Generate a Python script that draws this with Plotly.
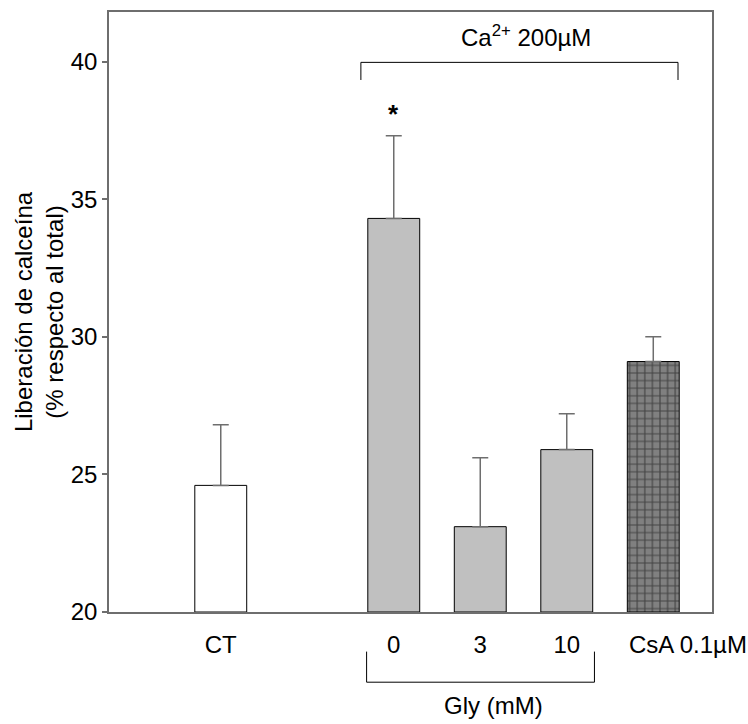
import plotly.graph_objects as go

# Calcein release per condition (% of total)
labels = ["CT", "0", "3", "10", "CsA 0.1µM"]
positions = [0, 2, 3, 4, 5]
means = [24.6, 34.3, 23.1, 25.9, 29.1]
sems = [2.2, 3.0, 2.5, 1.3, 0.9]
fills = ["#ffffff", "#c0c0c0", "#c0c0c0", "#c0c0c0", "#808080"]
patterns = ["", "", "", "", "+"]

y_ticks = [20, 25, 30, 35, 40]

FONT = "Liberation Sans, Arial, sans-serif"
AXIS_COL = "#6e6e6e"
FS = 24
BAR_W = 0.6

fig = go.Figure()
fig.add_trace(go.Bar(
    x=positions,
    y=[m - 20 for m in means],
    base=20,
    width=BAR_W,
    marker=dict(
        color=fills,
        line=dict(color="#000000", width=1),
        pattern=dict(shape=patterns, fgcolor="#000000", fgopacity=1, size=7.6,
                     solidity=0.28, fillmode="overlay"),
    ),
    error_y=dict(type="data", array=sems, arrayminus=[0] * len(sems), symmetric=False,
                 color=AXIS_COL, thickness=1.5, width=8),
    hoverinfo="skip",
))

# Brackets grouping the calcium-treated and glycine conditions
ca_left, ca_right = 1.62, 5.286
fig.add_shape(type="path", xref="x", yref="y",
              path=f"M {ca_left},39.33 L {ca_left},39.97 L {ca_right},39.97 L {ca_right},39.33",
              line=dict(color="#000000", width=1))
fig.add_annotation(x=(ca_left + ca_right) / 2 + 0.08, y=40.92, xref="x", yref="y",
                   text="Ca<sup>2+</sup> 200µM", showarrow=False,
                   font=dict(family=FONT, size=FS, color="#000000"))

gly_left, gly_right = 1.686, 4.32
fig.add_shape(type="path", xref="x", yref="paper",
              path=f"M {gly_left},-0.066 L {gly_left},-0.117 L {gly_right},-0.117 L {gly_right},-0.066",
              line=dict(color="#000000", width=1))
fig.add_annotation(x=3.15, y=-0.155, xref="x", yref="paper", yanchor="middle",
                   text="Gly (mM)", showarrow=False,
                   font=dict(family=FONT, size=FS, color="#000000"))

# Significance marker
fig.add_annotation(x=positions[1], y=38.1, xref="x", yref="y", text="<b>*</b>",
                   showarrow=False, font=dict(family=FONT, size=26, color="#000000"))

# The CsA label starts at its bar's left edge rather than centred under it
tick_text = labels[:4] + [""]
fig.add_annotation(x=positions[4] - BAR_W / 2, y=0, xref="x", yref="paper",
                   xanchor="left", yanchor="top", yshift=-17,
                   text=labels[4], showarrow=False,
                   font=dict(family=FONT, size=FS, color="#000000"))

fig.update_layout(
    width=748, height=724,
    margin=dict(l=109, r=36, t=12, b=112),
    plot_bgcolor="#ffffff", paper_bgcolor="#ffffff",
    showlegend=False,
    font=dict(family=FONT, size=FS, color="#000000"),
    xaxis=dict(
        range=[-1.292, 5.679], automargin=False,
        tickvals=positions, ticktext=tick_text, tickangle=0,
        ticks="", ticklabelstandoff=10, showgrid=False, zeroline=False,
        showline=True, linecolor=AXIS_COL, linewidth=1.5, mirror=True,
        tickfont=dict(family=FONT, size=FS, color="#000000"),
    ),
    yaxis=dict(
        range=[20, 41.8], automargin=False,
        tickvals=y_ticks,
        ticks="outside", ticklen=5, tickcolor=AXIS_COL, tickwidth=1.5,
        showgrid=False, zeroline=False,
        showline=True, linecolor=AXIS_COL, linewidth=1.5, mirror=True,
        tickfont=dict(family=FONT, size=FS, color="#000000"),
        title=dict(text="Liberación de calceína<br>(% respecto al total)",
                   font=dict(family=FONT, size=FS, color="#000000"), standoff=0),
    ),
)

fig.write_html("out.html")
